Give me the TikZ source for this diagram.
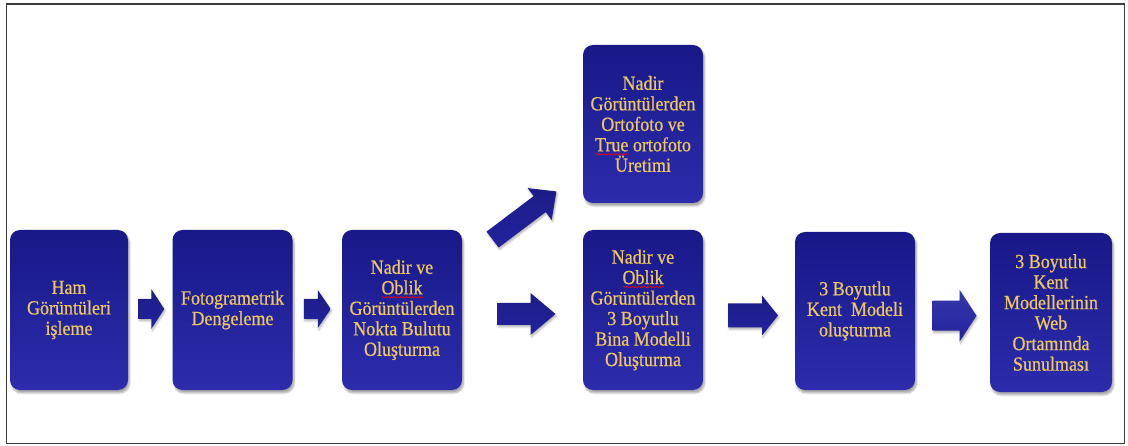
\documentclass[tikz,border=0pt]{standalone}
\usepackage{fontspec}
\usetikzlibrary{calc,shadows.blur,decorations.pathmorphing}
\setmainfont{Liberation Serif}
\newfontfamily\boxfontfam[FakeStretch=0.9,FakeBold=0.6]{Liberation Serif}
\newcommand\boxfont{\boxfontfam\fontsize{20}{20.5}\selectfont}
\definecolor{boxtop}{RGB}{24,24,136}
\definecolor{boxbot}{RGB}{44,44,172}
\definecolor{gold}{RGB}{236,198,98}
\definecolor{framecol}{RGB}{60,60,60}
\definecolor{arrcol}{RGB}{34,34,158}
\definecolor{arrlight}{RGB}{56,56,170}
\newsavebox\spellbox
\newcommand\spell[1]{\sbox\spellbox{#1}\leavevmode\rlap{\tikz[baseline=0pt]{\draw[red, sharp corners, line width=0.6pt, decorate, decoration={snake, amplitude=0.7pt, segment length=3pt}] (0pt,-3pt) -- (\wd\spellbox,-3pt);}}\usebox\spellbox}
% #1 centre, #2 angle, #3 length, #4 shaft width, #5 head width, #6 head length, #7 style
\newcommand\blockarr[7]{%
  \begin{scope}[shift={#1}, rotate=#2]
    \path[#7] (-#3/2,-#4/2) -- (#3/2-#6,-#4/2) -- (#3/2-#6,-#5/2) -- (#3/2,0)
      -- (#3/2-#6,#5/2) -- (#3/2-#6,#4/2) -- (-#3/2,#4/2) -- cycle;
  \end{scope}}
\begin{document}
\begin{tikzpicture}[x=1pt,y=1pt,
  box/.style={rounded corners=10pt, minimum width=120pt, minimum height=160pt,
    top color=boxtop, bottom color=boxbot, text=gold, align=center,
    font=\boxfont, inner sep=1pt,
    blur shadow={shadow xshift=1.5pt, shadow yshift=-3pt, shadow blur steps=6, shadow opacity=35}},
  arr/.style={top color=arrcol!85!black, bottom color=arrcol,
    blur shadow={shadow xshift=1pt, shadow yshift=-2pt, shadow blur steps=4, shadow opacity=30}},
  arrl/.style={top color=arrlight, bottom color=arrcol,
    blur shadow={shadow xshift=1pt, shadow yshift=-2pt, shadow blur steps=4, shadow opacity=30}}
]
\useasboundingbox (0,0) rectangle (1128,445);
\draw[framecol, line width=1.5pt] (6.5,1.5) rectangle (1124.5,441);

\node[box, minimum width=118pt] (b1) at (69,135) {Ham\\Görüntüleri\\işleme};
\node[box] (b2) at (232.5,135) {Fotogrametrik\\Dengeleme};
\node[box] (b3) at (402,135) {Nadir ve\\\spell{Oblik}\\Görüntülerden\\Nokta Bulutu\\Oluşturma};
\node[box, minimum height=158pt] (b4) at (643,321) {Nadir\\Görüntülerden\\Ortofoto ve\\\spell{True} ortofoto\\Üretimi};
\node[box] (b5) at (643,135) {Nadir ve\\\spell{Oblik}\\Görüntülerden\\3 Boyutlu\\Bina Modelli\\Oluşturma};
\node[box, minimum height=158pt] (b6) at (855,134) {3 Boyutlu\\Kent~~Modeli\\oluşturma};
\node[box, minimum width=122pt, minimum height=159pt] (b7) at (1051,132.5) {3 Boyutlu\\Kent\\Modellerinin\\Web\\Ortamında\\Sunulması};

\blockarr{($(b1.east)!0.5!(b2.west)+(1,1)$)}{0}{26}{20}{40}{13}{arr}
\blockarr{($(b2.east)!0.5!(b3.west)+(0,1)$)}{0}{27}{20}{38}{13}{arr}
\blockarr{($(b3.east)!0.5!(b5.west)+(4,-4)$)}{0}{58}{22}{42}{25}{arr}
\blockarr{($(b3.north east)!0.5!(b4.south west)+(2,1)$)}{37}{80}{20}{40}{21}{arr}
\blockarr{($(b5.east)!0.5!(b6.west)+(4,-5)$)}{0}{50}{24}{40}{16}{arr}
\blockarr{($(b6.east)!0.5!(b7.west)+(2,-4)$)}{0}{44}{30}{52}{17}{arrl}
\end{tikzpicture}
\end{document}
